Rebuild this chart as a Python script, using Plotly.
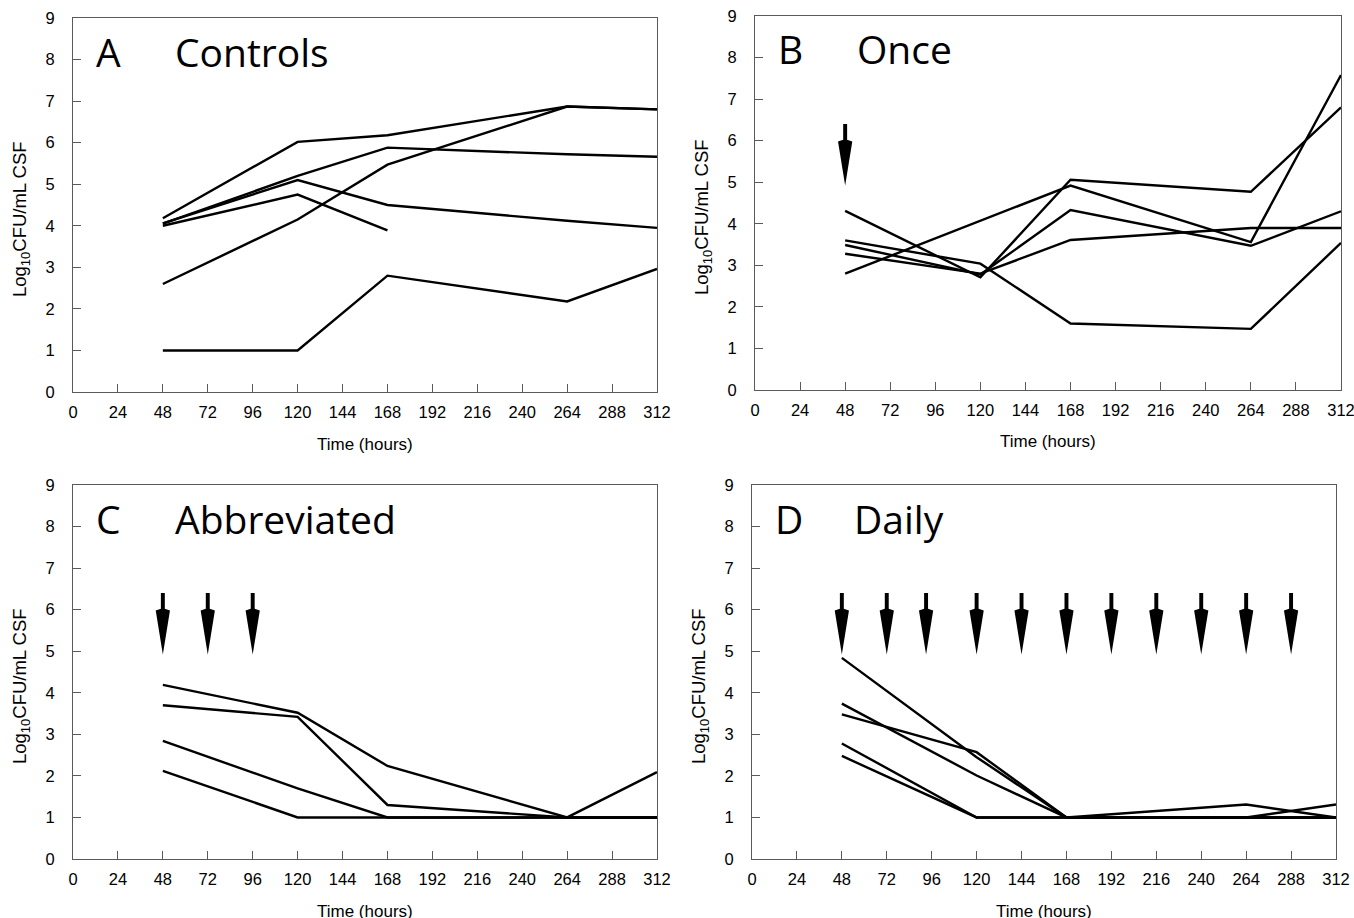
import plotly.graph_objects as go

W, H = 1354, 918

# ---- data ----
times = [48, 120, 168, 264, 312]
x_ticks = list(range(0, 313, 24))
y_ticks = list(range(0, 10))

controls = [
    [4.18, 6.02, 6.18, 6.87, 6.80],
    [2.60, 4.15, 5.47, 6.87, 6.80],
    [4.05, 5.20, 5.88, 5.72, 5.66],
    [4.06, 5.10, 4.50, 4.12, 3.95],
    [4.00, 4.75, 3.89, None, None],
    [1.00, 1.00, 2.80, 2.18, 2.96],
]
once = [
    [2.80, 4.07, 4.92, 3.56, 7.58],
    [4.31, 2.71, 5.06, 4.77, 6.80],
    [3.60, 3.04, 1.60, 1.47, 3.54],
    [3.49, 2.78, 4.33, 3.47, 4.30],
    [3.28, 2.80, 3.61, 3.90, 3.90],
]
abbreviated = [
    [4.19, 3.52, 2.24, 1.00, 2.09],
    [3.70, 3.42, 1.30, 1.00, 1.00],
    [2.84, 1.70, 1.00, 1.00, 1.00],
    [2.12, 1.00, 1.00, 1.00, 1.00],
]
daily = [
    [4.84, 2.45, 1.00, 1.00, 1.00],
    [3.74, 2.01, 1.00, 1.31, 1.00],
    [3.48, 2.57, 1.00, 1.00, 1.00],
    [2.78, 1.00, 1.00, 1.00, 1.31],
    [2.48, 1.00, 1.00, 1.00, 1.00],
]
once_doses = [48]
abbreviated_doses = [48, 72, 96]
daily_doses = [48, 72, 93, 120, 144, 168, 192, 216, 240, 264, 288]

panel_letters = ["A", "B", "C", "D"]
panel_names = ["Controls", "Once", "Abbreviated", "Daily"]
y_title = "Log<sub>10</sub>CFU/mL CSF"
x_title = "Time (hours)"

# ---- layout geometry (pixels) ----
boxes = [  # left, right, top, bottom
    (73, 657, 18, 392),
    (755, 1341, 16, 390),
    (73, 657, 485, 859),
    (752, 1336, 485, 859),
]
series_sets = [controls, once, abbreviated, daily]
dose_sets = [[], once_doses, abbreviated_doses, daily_doses]


def px(x):
    return x / W


def py(y):
    return 1 - y / H


fig = go.Figure()
annotations = []
shapes = []
sans = "Liberation Sans, Arial, sans-serif"
axis_font = dict(family=sans, size=16.5, color="black")
title_font = dict(family="Open Sans, sans-serif", size=39, color="black")

for i, (box, sets, doses) in enumerate(zip(boxes, series_sets, dose_sets)):
    n = i + 1
    xa = "x" if n == 1 else f"x{n}"
    ya = "y" if n == 1 else f"y{n}"
    l, r, t, b = box
    for s in sets:
        fig.add_trace(go.Scatter(
            x=times, y=s, mode="lines", xaxis=xa, yaxis=ya,
            line=dict(color="black", width=2.4), showlegend=False,
            hoverinfo="skip", connectgaps=False,
        ))
    ax_common = dict(
        showgrid=False, zeroline=False, showline=True, mirror=True,
        linecolor="#5a5a5a", linewidth=1, ticks="inside", ticklen=8,
        tickcolor="#5a5a5a", tickwidth=1, tickfont=axis_font,
        automargin=False, fixedrange=True, ticklabeloverflow="allow",
    )
    fig.layout[f"xaxis{'' if n == 1 else n}"] = dict(
        ax_common, domain=[px(l), px(r)], range=[0, 312],
        tickvals=x_ticks, anchor=ya, ticklabelstandoff=5,
    )
    fig.layout[f"yaxis{'' if n == 1 else n}"] = dict(
        ax_common, domain=[py(b), py(t)], range=[0, 9],
        tickvals=y_ticks, anchor=xa, ticklabelstandoff=14,
    )
    # dose arrows
    top, head, tip = 6.40, 6.02, 4.92
    sw, hw = 1.05, 3.8
    for d in doses:
        path = (f"M {d - sw},{top} L {d + sw},{top} L {d + sw},{head} "
                f"L {d + hw},{head - 0.04} L {d},{tip} L {d - hw},{head - 0.04} "
                f"L {d - sw},{head} Z")
        shapes.append(dict(type="path", path=path, xref=xa, yref=ya,
                           fillcolor="black", line=dict(width=0)))
    # panel titles
    annotations.append(dict(text=panel_letters[i], x=px(l + 21), y=py(t + 33),
                            xref="paper", yref="paper", xanchor="left",
                            yanchor="middle", showarrow=False, font=title_font))
    annotations.append(dict(text=panel_names[i], x=px(l + 100), y=py(t + 33),
                            xref="paper", yref="paper", xanchor="left",
                            yanchor="middle", showarrow=False, font=title_font))
    # axis titles
    annotations.append(dict(text=y_title, x=px(l - 52), y=py((t + b) / 2 + 14),
                            xref="paper", yref="paper", xanchor="center",
                            yanchor="middle", textangle=-90, showarrow=False,
                            font=dict(family=sans, size=18.5, color="black")))
    annotations.append(dict(text=x_title, x=px((l + r) / 2), y=py(b + 52),
                            xref="paper", yref="paper", xanchor="center",
                            yanchor="middle", showarrow=False,
                            font=dict(family=sans, size=17, color="black")))

fig.update_layout(
    width=W, height=H, margin=dict(l=0, r=0, t=0, b=0, autoexpand=False),
    paper_bgcolor="white", plot_bgcolor="white",
    annotations=annotations, shapes=shapes, showlegend=False,
)
fig.write_html("out.html", config={"displayModeBar": False},
               post_script="document.body.style.margin='0';"
                           "document.body.style.overflow='hidden';")
